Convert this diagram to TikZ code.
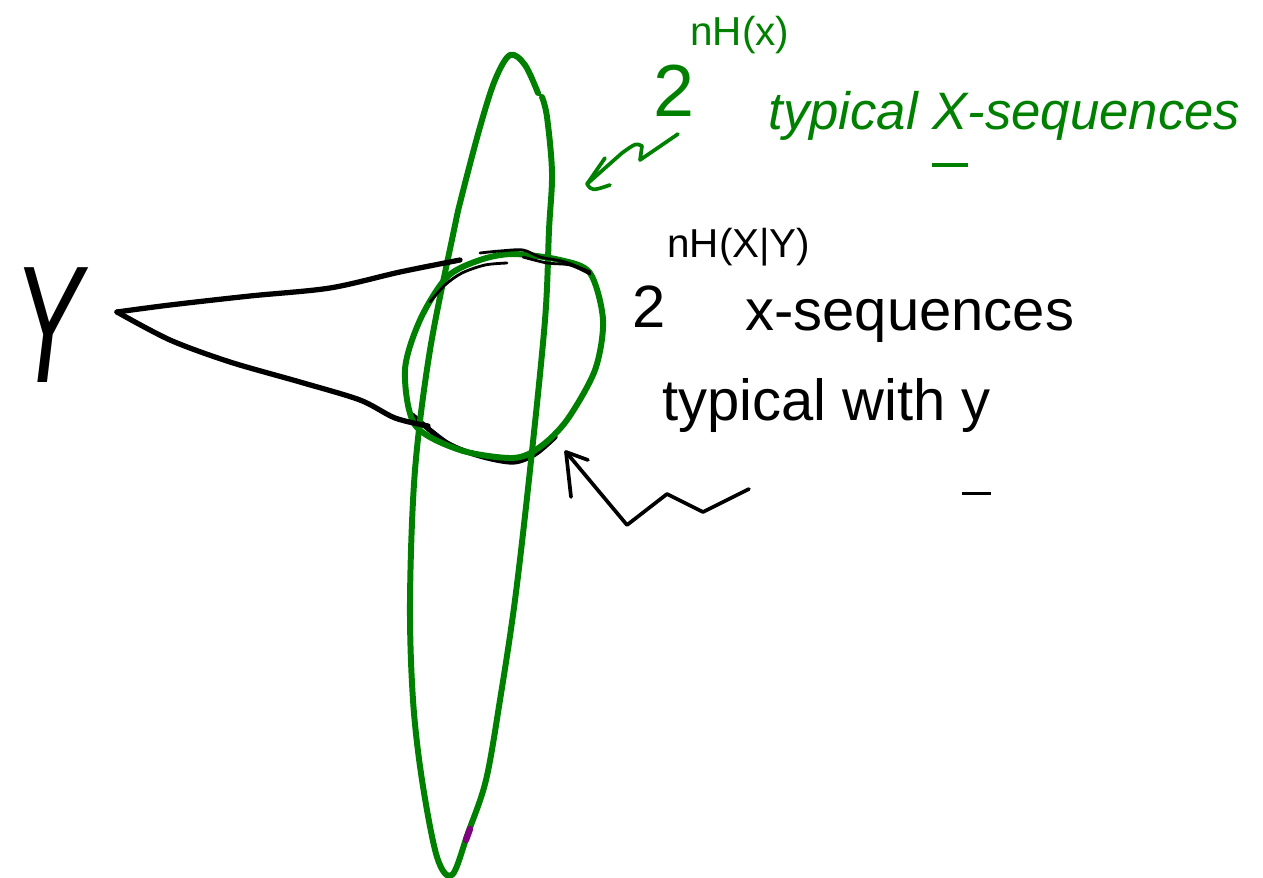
\documentclass[tikz,border=0pt]{standalone}
\usepackage{fontspec}
\usepackage{graphicx}
\setmainfont{Liberation Sans}
\usetikzlibrary{arrows.meta}
\definecolor{pen}{RGB}{0,128,0}
\definecolor{marker}{RGB}{128,0,128}
\newcommand{\ulbelow}[2]{\vtop{\hbox{#2}\kern#1\hrule height 2pt}}
\begin{document}
\begin{tikzpicture}[x=0.02cm,y=-0.02cm, line cap=round, line join=round,
  gline/.style={draw=pen, line width=3.4pt},
  bline/.style={draw=black, line width=3pt},
  thinline/.style={draw=black, line width=1.6pt},
  arr/.style={line width=2.1pt},
  txt/.style={anchor=base west, inner sep=0pt}]
\useasboundingbox (0,0) rectangle (1263,878);

% bottom black arc (under the green circle)
\draw[bline] plot[smooth] coordinates {(412,415) (447,443) (480,456) (513,462) (535,454) (555,437)};

% long green ellipse (typical x-sequences)
\draw[gline] plot[smooth, tension=0.55] coordinates {(542,97) (547,117) (552,173) (549,230) (545,320) (530,470) (515,600) (500,700) (486,780) (468,833) (452,875) (437,857) (422,780) (413,700) (410,600) (415,470) (430,350) (454,230) (462,195) (480,127) (495,80) (510,55) (525,65) (538,93)};
\draw[draw=marker, line width=3.6pt] (470,829) -- (466,840);

% green circle
\draw[gline] plot[smooth cycle] coordinates {(513,254) (560,260) (590,273) (603,320) (595,370) (567,420) (540,447) (513,458) (460,450) (415,425) (405,370) (420,320) (447,277) (480,260)};

% cone from y
\coordinate (apex) at (117,312);
\draw[bline] plot[smooth] coordinates {(460,260) (400,272) (330,288) (250,296) (170,305) (apex)};
\draw[bline] plot[smooth] coordinates {(apex) (170,340) (230,362) (300,382) (360,400) (395,418) (428,426)};

% thin black arcs on top of circle
\draw[thinline] plot[smooth] coordinates {(430,302) (445,285) (462,273) (485,265) (507,263)};
\draw[thinline] plot[smooth] coordinates {(480,253) (500,251) (523,250) (540,257) (565,262) (590,272)};
\draw[thinline] plot[smooth] coordinates {(523,257) (547,263) (570,265) (590,274)};

% Y label
\node[inner sep=0pt, anchor=base, font=\fontsize{95}{95}\selectfont\itshape] (ylab) at (48,382) {\scalebox{0.62}[1]{Y}};

% green labels
\node[txt, text=pen, font=\fontsize{23}{23}\selectfont] (gexp) at (690,46) {nH(x)};
\node[txt, text=pen, font=\fontsize{42}{42}\selectfont] (gtwo) at (653,117) {2};
\node[txt, text=pen, font=\fontsize{30}{30}\selectfont\itshape] (gtxt) at (768,130) {typical \ulbelow{19pt}{X}-sequences};

% black labels
\node[txt, font=\fontsize{23}{23}\selectfont] (bexp) at (667,258) {nH(X|Y)};
\node[txt, font=\fontsize{34}{34}\selectfont] (btwo) at (632,327) {2};
\node[txt, font=\fontsize{33}{33}\selectfont] (bseq) at (745,330) {x-sequences};
\node[txt, font=\fontsize{33}{33}\selectfont] (bwith) at (662,420) {typical with \ulbelow{34pt}{y}};

% green arrow
\coordinate (gs) at (678,134);
\coordinate (gt) at (587,184);
\coordinate (gb1) at (605,158);
\coordinate (gb2) at (610,185);
\draw[arr, draw=pen] (gs) -- (640,160) -- (642,146) .. controls (636,143) .. (622,153) -- (gt);
\draw[arr, draw=pen] (gb1) -- (gt) .. controls (592,191) .. (gb2);

% black arrow
\coordinate (bs) at (749,489);
\coordinate (bt) at (566,452);
\coordinate (bb1) at (571,497);
\coordinate (bb2) at (588,460);
\draw[arr] (bs) -- (743,492) -- (703,512) -- (667,494) -- (627,525) -- (bt);
\draw[arr] (bb1) -- (bt) -- (bb2);
\end{tikzpicture}
\end{document}
